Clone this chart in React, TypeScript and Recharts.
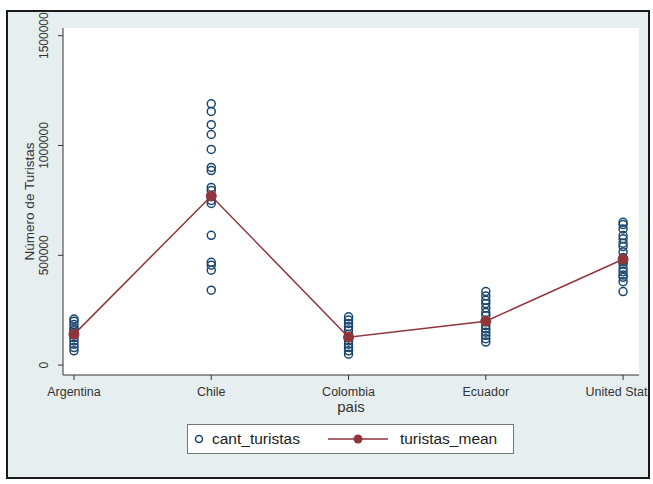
import { ScatterChart, Scatter, XAxis, YAxis, CartesianGrid } from "recharts";

const FONT = "'Liberation Sans', Arial, Helvetica, sans-serif";
const NAVY = "#1A476F";
const MAROON = "#90353B";
const BG = "#E7EEF0";
const GRID = "#E4ECEE";

const countries = ["Argentina", "Chile", "Colombia", "Ecuador", "United States"];

// tourist counts per year, by country
const argentina = [210000, 200000, 185000, 170000, 160000, 150000, 140000, 125000, 110000, 95000, 80000, 65000];
const chile = [1190000, 1155000, 1095000, 1050000, 982000, 900000, 886000, 809000, 795000, 750000, 736000, 591000, 468000, 455000, 432000, 341000];
const colombia = [220000, 205000, 190000, 175000, 160000, 140000, 125000, 110000, 95000, 80000, 65000, 50000];
const ecuador = [335000, 315000, 295000, 280000, 260000, 240000, 225000, 200000, 180000, 165000, 150000, 135000, 120000, 105000];
const unitedStates = [650000, 640000, 620000, 590000, 575000, 555000, 540000, 515000, 490000, 480000, 470000, 460000, 440000, 425000, 410000, 400000, 380000, 335000];

const turistasMean = [140000, 770000, 127000, 200000, 482000];

const yTicks = [0, 500000, 1000000, 1500000];
const xTicks = [1, 2, 3, 4, 5];

const cantTuristas = [argentina, chile, colombia, ecuador, unitedStates].flatMap((vals, i) =>
  vals.map((v) => ({ x: i + 1, y: v }))
);
const meanPoints = turistasMean.map((v, i) => ({ x: i + 1, y: v }));

function HollowDot(props: any) {
  return <circle cx={props.cx} cy={props.cy} r={4} fill="none" stroke={NAVY} strokeWidth={1.5} />;
}

function MeanDot(props: any) {
  return <circle cx={props.cx} cy={props.cy} r={5} fill={MAROON} stroke={MAROON} />;
}

function XTick({ x, y, payload }: any) {
  return (
    <text x={x} y={y} dy={14} textAnchor="middle" fill="#333" fontSize={12.5} fontFamily={FONT}>
      {countries[payload.value - 1]}
    </text>
  );
}

function YTick({ x, y, payload }: any) {
  return (
    <text
      x={x}
      y={y}
      dx={-8}
      textAnchor="middle"
      fill="#333"
      fontSize={12}
      fontFamily={FONT}
      transform={`rotate(-90, ${x - 8}, ${y})`}
    >
      {payload.value}
    </text>
  );
}

export default function App() {
  return (
    <div style={{ position: "fixed", left: 0, top: 0, width: 653, height: 484, background: "#fff" }}>
      <div
        style={{
          position: "absolute",
          left: 6,
          top: 10,
          width: 644,
          height: 469,
          boxSizing: "border-box",
          border: "2px solid #1a1a1a",
          background: BG,
          overflow: "hidden",
        }}
      >
        <div style={{ position: "absolute", left: -8, top: -12 }}>
          <ScatterChart width={653} height={484} margin={{ top: 28, right: 14, bottom: 0, left: 0 }}>
            <rect x={63} y={28} width={576} height={347} fill="#fff" />
            <CartesianGrid stroke={GRID} strokeWidth={1} />
            <XAxis
              type="number"
              dataKey="x"
              domain={[0.92, 5.116]}
              ticks={xTicks}
              allowDataOverflow
              height={109}
              stroke="#333"
              tickSize={5}
              tick={<XTick />}
              label={{ value: "pais", position: "insideTop", offset: 26, fontSize: 15, fill: "#333", fontFamily: FONT }}
            />
            <YAxis
              type="number"
              dataKey="y"
              domain={[-45000, 1535000]}
              ticks={yTicks}
              allowDataOverflow
              width={63}
              stroke="#333"
              tickSize={5}
              tick={<YTick />}
              label={{
                value: "Número de Turistas",
                angle: -90,
                position: "center",
                dx: -2,
                fontSize: 13.5,
                fill: "#333",
                fontFamily: FONT,
              }}
            />
            <Scatter name="cant_turistas" data={cantTuristas} shape={<HollowDot />} isAnimationActive={false} />
            <Scatter
              name="turistas_mean"
              data={meanPoints}
              line={{ stroke: MAROON, strokeWidth: 1.5 }}
              shape={<MeanDot />}
              isAnimationActive={false}
            />
          </ScatterChart>
        </div>
        <div
          style={{
            position: "absolute",
            left: 179,
            top: 412,
            width: 327,
            height: 30,
            boxSizing: "border-box",
            border: "1px solid #777",
            background: "#fff",
            fontFamily: FONT,
            fontSize: 15.5,
            color: "#222",
            display: "flex",
            alignItems: "center",
          }}
        >
          <svg width={20} height={14} style={{ marginLeft: 4 }}>
            <circle cx={7} cy={7} r={3.5} fill="none" stroke={NAVY} strokeWidth={1.5} />
          </svg>
          <span>cant_turistas</span>
          <svg width={64} height={14} style={{ marginLeft: 26, marginRight: 10 }}>
            <line x1={2} y1={7} x2={62} y2={7} stroke={MAROON} strokeWidth={1.5} />
            <circle cx={32} cy={7} r={4.5} fill={MAROON} />
          </svg>
          <span>turistas_mean</span>
        </div>
      </div>
    </div>
  );
}
